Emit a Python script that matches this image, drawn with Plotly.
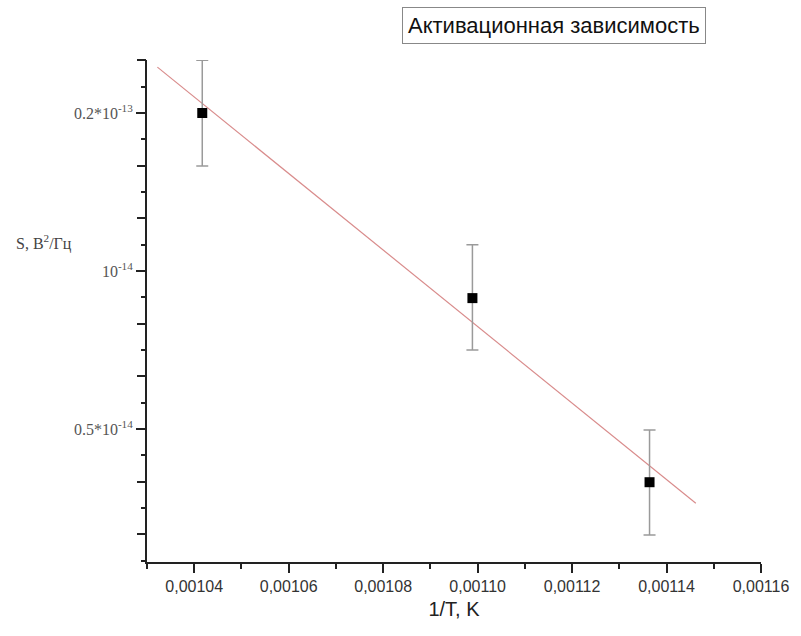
import plotly.graph_objects as go

# Data
inv_T = [0.0010417, 0.0010989, 0.0011364]          # 1/T, K^-1
S = [2.0e-14, 8.88e-15, 3.96e-15]                    # S, V^2/Hz
S_err_plus = [0.52e-14, 2.34e-15, 1.02e-15]
S_err_minus = [0.415e-14, 1.81e-15, 0.82e-15]

fit_x = [0.0010322, 0.0011462]
fit_y = [2.446e-14, 3.61e-15]

x_major = [0.00104, 0.00106, 0.00108, 0.00110, 0.00112, 0.00114, 0.00116]
x_minor = [0.00103, 0.00105, 0.00107, 0.00109, 0.00111, 0.00113, 0.00115]

y_label_vals = [2e-14, 1e-14, 5e-15]
y_label_text = ["0.2*10<sup>-13</sup>", "10<sup>-14</sup>", "0.5*10<sup>-14</sup>"]
y_major_k = [-5, -4, -3, -2, -1, 0, 1, 2, 3, 4]

y_major = [1e-14 * 2 ** (k / 3) for k in y_major_k]
y_minor = [1e-14 * 2 ** ((k + 0.5) / 3) for k in range(-6, 4)]

y_range = [-14.5543, -13.598]
tick_color = "#222"

fig = go.Figure()
fig.add_trace(go.Scatter(
    x=fit_x, y=fit_y, mode="lines",
    line=dict(color="#d98c8c", width=1.2),
    showlegend=False, hoverinfo="skip"))
fig.add_trace(go.Scatter(
    x=inv_T, y=S, mode="markers",
    marker=dict(symbol="square", size=10, color="black"),
    error_y=dict(type="data", array=S_err_plus, arrayminus=S_err_minus,
                 color="#9a9a9a", thickness=1.5, width=6),
    showlegend=False))

fig.update_layout(
    width=801, height=636,
    margin=dict(l=147, r=38, t=60, b=74),
    paper_bgcolor="white", plot_bgcolor="white",
    separators=",.",
    xaxis=dict(
        range=[0.00103, 0.00116],
        tickvals=x_major, tickformat=".5f",
        ticks="outside", ticklen=9, tickwidth=2, tickcolor=tick_color,
        showline=True, linecolor=tick_color, linewidth=2,
        showgrid=False, zeroline=False,
        tickfont=dict(family="Liberation Sans, Arial", size=16, color="#333"),
        minor=dict(tickvals=x_minor, ticks="outside", ticklen=5, tickwidth=2,
                   tickcolor=tick_color, showgrid=False),
        title=dict(text="1/T, K", font=dict(family="Liberation Sans, Arial", size=20, color="#222"),
                   standoff=8),
    ),
    yaxis=dict(
        type="log", range=y_range,
        tickvals=y_label_vals, ticktext=y_label_text,
        ticks="outside", ticklen=9, tickwidth=2, tickcolor=tick_color,
        showline=True, linecolor=tick_color, linewidth=2,
        showgrid=False, zeroline=False,
        tickfont=dict(family="Liberation Serif, Times New Roman", size=16, color="#555"),
    ),
    yaxis2=dict(
        type="log", range=y_range, overlaying="y", side="left", anchor="x",
        tickvals=y_major, showticklabels=False,
        ticks="outside", ticklen=9, tickwidth=2, tickcolor=tick_color,
        showline=False, showgrid=False, zeroline=False,
        minor=dict(tickvals=y_minor, ticks="outside", ticklen=5, tickwidth=2,
                   tickcolor=tick_color, showgrid=False),
    ),
    annotations=[
        dict(text="Активационная зависимость", xref="paper", yref="paper",
             x=(555.5 - 147) / 616, y=(562 - 25) / 502, showarrow=False,
             xanchor="center", yanchor="middle",
             font=dict(family="Liberation Sans, Arial", size=22, color="#111"),
             bordercolor="#888", borderwidth=1, borderpad=5, bgcolor="white"),
        dict(text="S, В<sup>2</sup>/Гц", xref="paper", yref="paper",
             x=(44 - 147) / 616, y=(562 - 242) / 502, showarrow=False,
             xanchor="center", yanchor="middle",
             font=dict(family="Liberation Serif, Times New Roman", size=16, color="#444")),
    ],
)

# invisible trace to activate the secondary tick-only axis
fig.add_trace(go.Scatter(x=[inv_T[0]], y=[S[0]], yaxis="y2", mode="markers",
                         marker=dict(opacity=0), showlegend=False, hoverinfo="skip"))

fig.write_html("out.html")
